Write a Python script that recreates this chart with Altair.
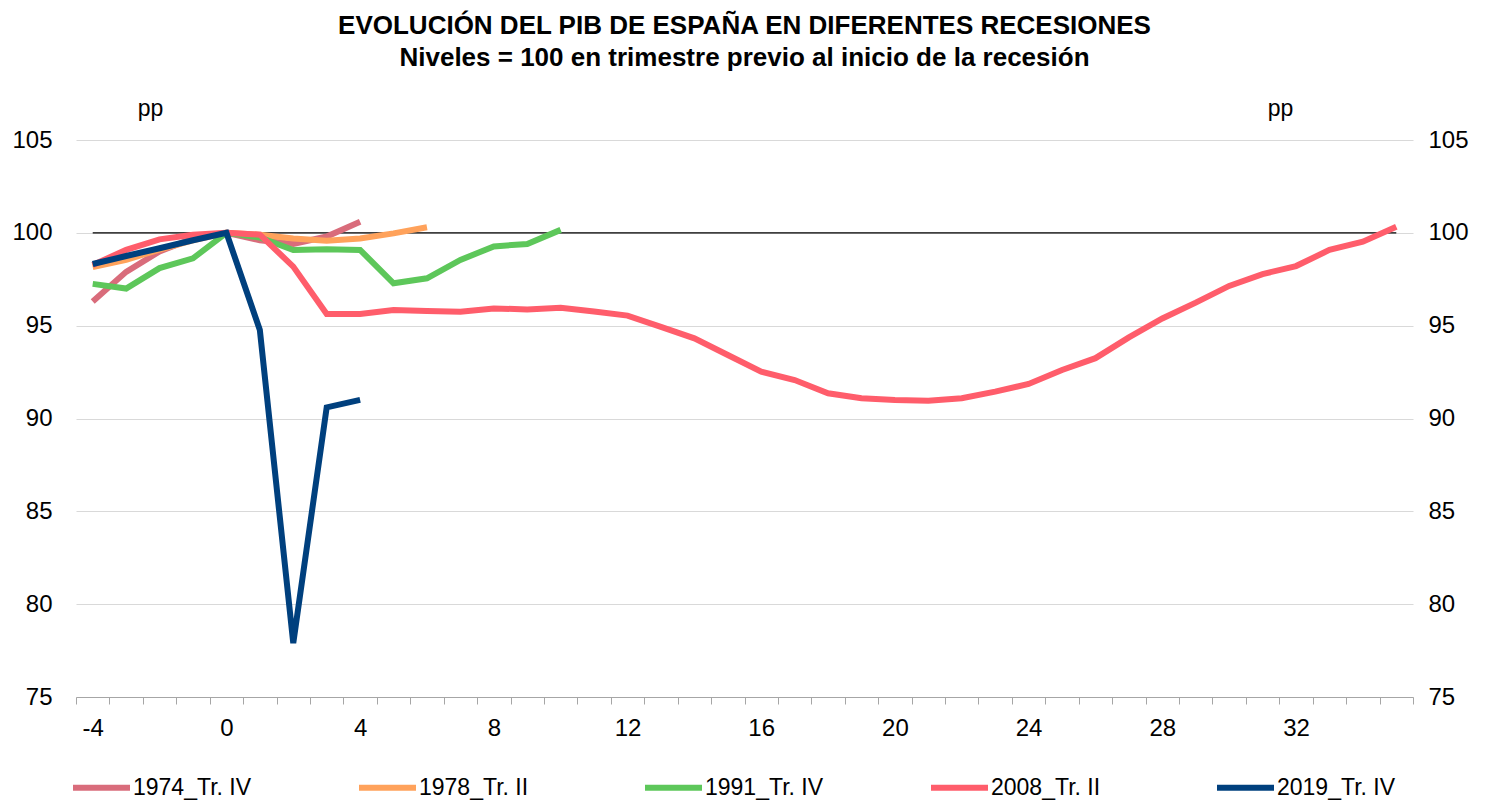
import altair as alt
import pandas as pd

# ---- data ----
quarters = list(range(-4, 36))

series_names = ["1974_Tr. IV", "1978_Tr. II", "1991_Tr. IV", "2008_Tr. II", "2019_Tr. IV"]
series_colors = ["#d96c7b", "#ffa25b", "#5dc75a", "#ff5d6b", "#00407e"]

s1974 = [96.3, 97.9, 99.0, 99.7, 100.0, 99.6, 99.4, 99.8, 100.6]
s1978 = [98.15, 98.55, 99.1, 99.6, 100.0, 99.9, 99.7, 99.57, 99.7, 99.97, 100.3]
s1991 = [97.25, 97.0, 98.1, 98.63, 100.0, 99.75, 99.07, 99.11, 99.08, 97.28, 97.55,
         98.54, 99.27, 99.4, 100.16]
s2008 = [98.27, 99.08, 99.65, 99.9, 100.0, 99.9, 98.18, 95.63, 95.63, 95.84, 95.79,
         95.75, 95.93, 95.87, 95.97, 95.76, 95.54, 94.94, 94.32, 93.42, 92.52, 92.07,
         91.36, 91.09, 91.0, 90.96, 91.09, 91.45, 91.86, 92.61, 93.25, 94.37, 95.39,
         96.24, 97.14, 97.78, 98.21, 99.08, 99.52, 100.33]
s2019 = [98.32, 98.75, 99.17, 99.6, 100.0, 94.77, 77.9, 90.6, 91.0]

ref_level = [100] * len(quarters)
y_ticks = [75, 80, 85, 90, 95, 100, 105]

series_values = [s1974, s1978, s1991, s2008, s2019]

rows = []
for name, vals in zip(series_names, series_values):
    for q, v in zip(quarters, vals):
        rows.append({"trimestre": q, "serie": name, "pib": v})
df = pd.DataFrame(rows)
ref_df = pd.DataFrame({"trimestre": quarters, "nivel": ref_level})

W, H = 1337, 557
FONT = "Liberation Sans"
TICK_FS = 24

xscale = alt.Scale(domain=[quarters[0] - 0.5, quarters[-1] + 0.5], nice=False, zero=False)
yscale = alt.Scale(domain=[75, 105], nice=False, zero=False)

tick_vals = [q - 0.5 for q in quarters] + [quarters[-1] + 0.5]

x_axis = alt.Axis(
    values=tick_vals,
    labelExpr="((datum.value + 0.5) % 4 == 0 && datum.value + 0.5 <= 32) ? toString(datum.value + 0.5) : ''",
    labelOffset=W / (2 * len(quarters)),
    labelOverlap=False,
    labelFlush=False,
    labelFont=FONT,
    labelFontSize=TICK_FS,
    labelColor="black",
    labelPadding=12,
    tickColor="#a6a6a6",
    tickSize=7,
    domainColor="#a6a6a6",
    grid=False,
    title=None,
)

left_axis = alt.Axis(
    orient="left",
    values=y_ticks,
    grid=True,
    gridColor="#d9d9d9",
    gridWidth=1,
    ticks=False,
    domain=False,
    labelFont=FONT,
    labelFontSize=TICK_FS,
    labelColor="black",
    labelPadding=24,
    title="pp",
    titleAngle=0,
    titleX=74,
    titleY=-32,
    titleAlign="center",
    titleBaseline="middle",
    titleFont=FONT,
    titleFontSize=23,
    titleFontWeight="normal",
    titleColor="black",
)

right_axis = alt.Axis(
    orient="right",
    values=y_ticks,
    grid=False,
    ticks=False,
    domain=False,
    labelFont=FONT,
    labelFontSize=TICK_FS,
    labelColor="black",
    labelPadding=15,
    title="pp",
    titleAngle=0,
    titleX=-133,
    titleY=-32,
    titleAlign="center",
    titleBaseline="middle",
    titleFont=FONT,
    titleFontSize=23,
    titleFontWeight="normal",
    titleColor="black",
)

ref = alt.Chart(ref_df).mark_line(color="black", strokeWidth=1.3).encode(
    x=alt.X("trimestre:Q", scale=xscale, axis=x_axis),
    y=alt.Y("nivel:Q", scale=yscale, axis=right_axis),
)

lines = alt.Chart(df).mark_line(strokeWidth=6).encode(
    x=alt.X("trimestre:Q", scale=xscale, axis=x_axis),
    y=alt.Y("pib:Q", scale=yscale, axis=left_axis),
    color=alt.Color(
        "serie:N",
        scale=alt.Scale(domain=series_names, range=series_colors),
        legend=alt.Legend(
            orient="none",
            legendX=-6,
            legendY=616,
            direction="horizontal",
            title=None,
            symbolType="stroke",
            symbolSize=3249,
            symbolStrokeWidth=6,
            labelFont=FONT,
            labelFontSize=23,
            labelColor="black",
            labelOffset=0,
            columnPadding=95,
            gridAlign="all",
        ),
    ),
)

chart = (
    alt.layer(ref, lines)
    .resolve_scale(y="independent")
    .properties(
        width=W,
        height=H,
        autosize=alt.AutoSizeParams(type="none"),
        padding={"left": 68, "top": 132, "right": 60, "bottom": 115},
        title=alt.TitleParams(
            text="EVOLUCIÓN DEL PIB DE ESPAÑA EN DIFERENTES RECESIONES",
            subtitle="Niveles = 100 en trimestre previo al inicio de la recesión",
            font=FONT,
            fontSize=26,
            fontWeight="bold",
            color="black",
            subtitleFont=FONT,
            subtitleFontSize=26,
            subtitleFontWeight="bold",
            subtitleColor="black",
            subtitlePadding=6,
            anchor="middle",
            frame="group",
            offset=26,
        ),
    )
    .configure_view(stroke=None)
)

chart.save("out.html", embed_options={"renderer": "svg", "actions": False})
